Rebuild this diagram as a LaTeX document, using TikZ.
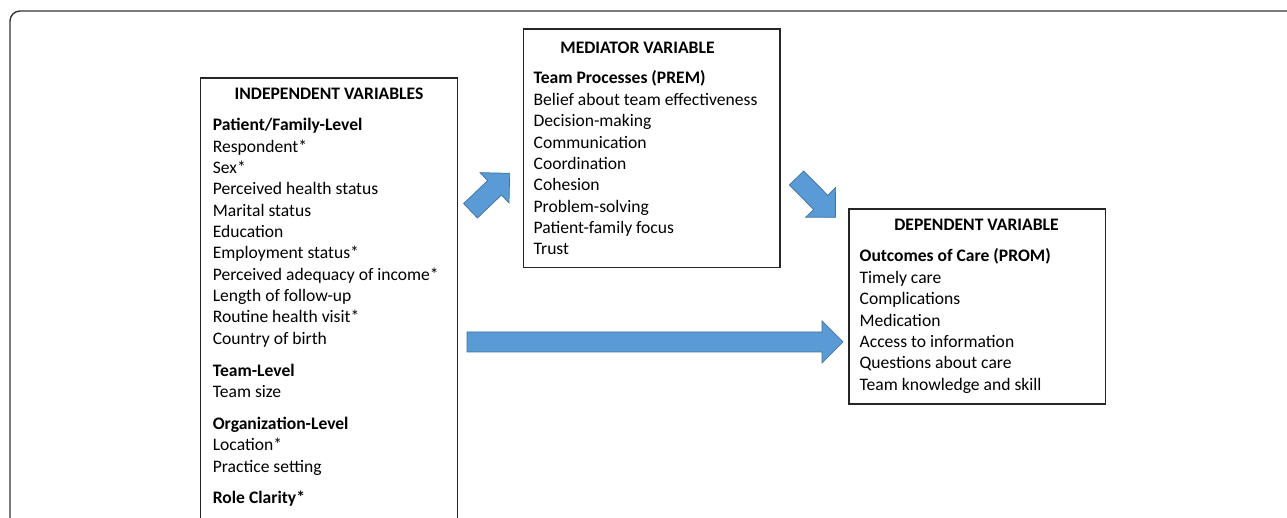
\documentclass[tikz,border=0pt]{standalone}
\usepackage{fontspec}
\setmainfont{Carlito}
\usetikzlibrary{calc}

\definecolor{arrowfill}{HTML}{5B9BD5}
\definecolor{arrowline}{HTML}{41719C}

\newcommand{\blockarrow}[2]{%
  \coordinate (neck) at ($(#2)!4.2mm!(#1)$);
  \draw [bigarrow] ($(#1)!2mm!90:(#2)$) -- ($(neck)!2mm!90:(#2)$)
    -- ($(neck)!4.2mm!90:(#2)$) -- (#2) -- ($(neck)!4.2mm!-90:(#2)$)
    -- ($(neck)!2mm!-90:(#2)$) -- ($(#1)!2mm!-90:(#2)$) -- cycle;
}
% list of items, baseline on the first row
\newcommand{\varitems}[1]{\begin{tabular}[t]{@{}l@{}}#1\end{tabular}}

\begin{document}
\begin{tikzpicture}[x=0.2mm, y=-0.2mm,
  varbox/.style={draw=black!85, line width=0.8pt, anchor=north west,
    inner sep=0pt, minimum width=5.134cm},
  vartitle/.style={anchor=base, inner sep=0pt,
    font=\fontsize{10}{12.15}\selectfont\bfseries},
  varlist/.style={anchor=base west, inner sep=0pt,
    font=\fontsize{10}{12.15}\selectfont},
  bigarrow/.style={fill=arrowfill, draw=arrowline, line width=0.4pt}]
 \useasboundingbox (0,0) rectangle (1287,518);
 \draw [black!80, line width=0.8pt, rounded corners=2mm] (10,540) -- (10,11) -- (1300,11);

 \node [varbox, minimum height=9.2cm] (indep) at (200,77.5) {};
 \node [vartitle] (indeptitle) at (329,99.5) {INDEPENDENT VARIABLES};
 \node [varlist] (indeplist) at (212.5,130.7) {\varitems{%
   \textbf{Patient/Family-Level}\\ Respondent*\\ Sex*\\ Perceived health status\\
   Marital status\\ Education\\ Employment status*\\ Perceived adequacy of income*\\
   Length of follow-up\\ Routine health visit*\\ Country of birth\\[6pt]
   \textbf{Team-Level}\\ Team size\\[6pt]
   \textbf{Organization-Level}\\ Location*\\ Practice setting\\[6pt]
   \textbf{Role Clarity*}}};

 \node [varbox, minimum height=4.768cm] (med) at (522.7,28.3) {};
 \node [vartitle] (medtitle) at (637.5,53.5) {MEDIATOR VARIABLE};
 \node [varlist] (medlist) at (533.3,84) {\varitems{%
   \textbf{Team Processes (PREM)}\\ Belief about team effectiveness\\ Decision-making\\
   Communication\\ Coordination\\ Cohesion\\ Problem-solving\\
   Patient-family focus\\ Trust}};

 \node [varbox, minimum height=3.9cm] (dep) at (848.3,208.3) {};
 \node [vartitle] (deptitle) at (976.5,230.5) {DEPENDENT VARIABLE};
 \node [varlist] (deplist) at (859.3,262) {\varitems{%
   \textbf{Outcomes of Care (PROM)}\\ Timely care\\ Complications\\ Medication\\
   Access to information\\ Questions about care\\ Team knowledge and skill}};

 \coordinate (up tail) at (470.5,210.8);
 \coordinate (up tip) at (509.7,173.3);
 \coordinate (down tail) at (796.5,178);
 \coordinate (down tip) at (835.5,217.3);
 \coordinate (direct tail) at (467,342);
 \coordinate (direct tip) at (843,342);

 \blockarrow{up tail}{up tip}
 \blockarrow{down tail}{down tip}
 \blockarrow{direct tail}{direct tip}
\end{tikzpicture}
\end{document}
